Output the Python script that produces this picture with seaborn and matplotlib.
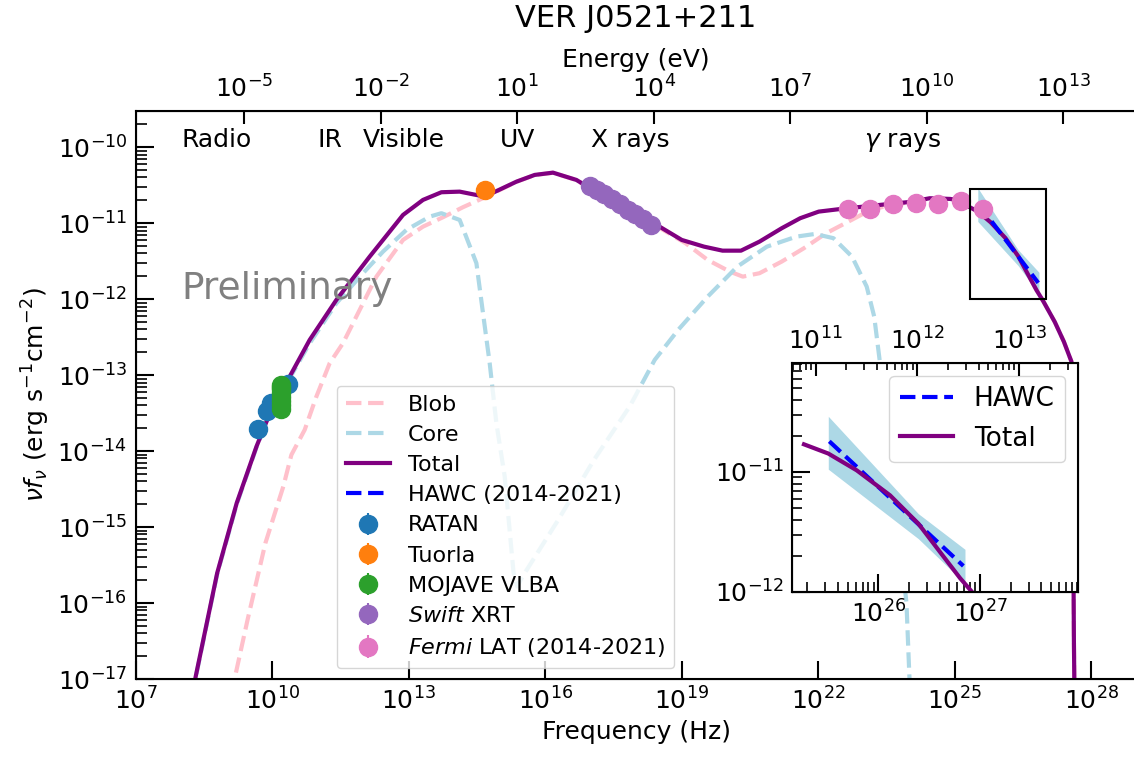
import numpy as np
import matplotlib
matplotlib.use("Agg")
import matplotlib.pyplot as plt
from matplotlib.patches import Rectangle
from matplotlib.ticker import NullLocator
import seaborn as sns

# Planck constant in eV s, for the energy axis on top
h_ev = 4.135667696e-15

# ---- model curves (log10 nu [Hz], log10 nuFnu [erg s^-1 cm^-2]) ----
total_lognu = [8.25, 8.319, 8.791, 9.22, 9.655, 10.009, 10.385, 10.824, 11.411, 12.143,
               12.875, 13.314, 13.719, 14.121, 14.67, 15.367, 15.769, 16.171, 16.686, 16.807,
               17.527, 18.514, 19.002, 19.49, 19.897, 20.303, 20.71, 21.198, 21.604, 22.011,
               22.499, 23.352, 24.011, 24.451, 24.9, 25.101, 25.269, 25.508, 25.787, 26.115,
               26.393, 26.606, 26.803, 26.95, 27.2, 27.4, 27.565, 27.59, 27.605, 27.62, 27.64]
total_logflux = [-17.2, -16.966, -15.605, -14.684, -13.939, -13.413, -13.018, -12.536, -12.009, -11.439,
                 -10.891, -10.693, -10.592, -10.584, -10.65, -10.453, -10.364, -10.334, -10.43, -10.474,
                 -10.71, -11.045, -11.22, -11.308, -11.361, -11.361, -11.242, -11.066, -10.934, -10.847,
                 -10.812, -10.759, -10.72, -10.671, -10.68, -10.70, -10.769, -10.846, -10.986, -11.195,
                 -11.431, -11.668, -11.886, -12.03, -12.3, -12.56, -12.82, -13.4, -15.0, -16.5, -17.6]

# the inset shows the total model only from ~1.9e25 Hz upward
inset_total_lognu = [25.269, 25.508, 25.787, 26.115, 26.393, 26.606, 26.803, 26.95, 27.2]
inset_total_logflux = [-10.769, -10.846, -10.986, -11.195, -11.431, -11.668, -11.886, -12.03, -12.3]

blob_lognu = [9.10, 9.185, 9.459, 9.851, 10.244, 10.422, 10.714, 10.971, 11.264, 11.556,
              11.996, 12.29, 12.875, 13.314, 13.754, 14.193, 14.67, 15.367, 15.769, 16.171,
              16.686, 16.807, 17.527, 18.2, 18.593, 19.084, 19.571, 20.059, 20.343, 20.71,
              21.198, 21.686, 22.174, 22.662, 23.149, 23.6, 24.011, 24.451, 24.9, 25.101,
              25.269, 25.508, 25.787, 26.115, 26.393, 26.606, 26.803, 26.95, 27.2, 27.4,
              27.565, 27.59, 27.605, 27.62, 27.64]
blob_logflux = [-17.2, -16.966, -16.22, -15.21, -14.466, -14.049, -13.72, -13.282, -12.842, -12.579,
                -12.053, -11.703, -11.22, -11.045, -10.921, -10.789, -10.66, -10.455, -10.366, -10.336,
                -10.432, -10.476, -10.712, -10.95, -11.088, -11.263, -11.483, -11.637, -11.703, -11.658,
                -11.505, -11.329, -11.132, -10.979, -10.825, -10.76, -10.725, -10.675, -10.683, -10.703,
                -10.77, -10.847, -10.987, -11.196, -11.432, -11.669, -11.887, -12.03, -12.3, -12.56,
                -12.82, -13.4, -15.0, -16.5, -17.6]

core_lognu = [8.25, 8.319, 8.791, 9.22, 9.655, 10.009, 10.385, 10.824, 11.411, 11.996,
              12.435, 12.949, 13.462, 13.719, 14.121, 14.488, 14.633, 14.78, 14.927, 15.11,
              15.305, 15.385, 15.503, 16.288, 17.073, 17.857, 18.407, 18.921, 19.571, 20.222,
              20.873, 21.523, 21.93, 22.336, 22.743, 23.066, 23.231, 23.35, 23.6, 23.85,
              23.94, 24.0, 24.05]
core_logflux = [-17.22, -16.98, -15.62, -14.70, -13.95, -13.43, -13.04, -12.58, -12.053, -11.658,
                -11.374, -11.088, -10.913, -10.868, -10.957, -11.526, -12.184, -12.842, -13.632, -14.334,
                -15.605, -15.782, -15.65, -14.904, -14.114, -13.413, -12.799, -12.405, -11.966, -11.571,
                -11.308, -11.176, -11.141, -11.197, -11.439, -11.834, -12.229, -12.8, -14.2, -15.5,
                -16.0, -16.9, -17.6]

# HAWC power law and its band
hawc_lognu = [25.518, 26.836]
hawc_logflux = [-10.744, -11.785]
band_lognu = [25.508, 26.393, 26.852]
band_upper = [-10.535, -11.348, -11.646]
band_lower = [-10.977, -11.557, -11.93]

# ---- data points ----
ratan_nu = [4.8e9, 7.5e9, 9.6e9, 2.22e10]
ratan_flux = [1.95e-14, 3.4e-14, 4.25e-14, 7.6e-14]
ratan_err = [1.5e-15, 2.0e-15, 2.5e-15, 4.0e-15]

tuorla_nu = [4.75e14]
tuorla_flux = [2.7e-11]
tuorla_err = [1.0e-12]

mojave_nu = [1.54e10, 1.54e10, 1.54e10, 1.54e10, 1.54e10, 1.54e10, 1.54e10, 1.54e10]
mojave_flux = [7.5e-14, 7.0e-14, 6.5e-14, 5.8e-14, 5.2e-14, 4.6e-14, 4.1e-14, 3.6e-14]
mojave_err = [2e-15, 2e-15, 2e-15, 2e-15, 2e-15, 2e-15, 2e-15, 2e-15]

swift_nu = [9.5e16, 1.4e17, 2.0e17, 3.0e17, 4.5e17, 6.5e17, 9.5e17, 1.4e18, 2.1e18]
swift_flux = [3.1e-11, 2.75e-11, 2.4e-11, 2.1e-11, 1.78e-11, 1.51e-11, 1.32e-11, 1.12e-11, 9.5e-12]
swift_err = [1.5e-12, 1.2e-12, 1.0e-12, 1.0e-12, 0.9e-12, 0.8e-12, 0.8e-12, 0.8e-12, 0.8e-12]

fermi_nu = [4.57e22, 1.41e23, 4.47e23, 1.38e24, 4.27e24, 1.35e25, 4.17e25]
fermi_flux = [1.56e-11, 1.55e-11, 1.78e-11, 1.86e-11, 1.78e-11, 1.95e-11, 1.55e-11]
fermi_err = [1.0e-12, 1.0e-12, 1.0e-12, 1.0e-12, 1.2e-12, 1.5e-12, 2.0e-12]

band_names = ["Radio", "IR", "Visible", "UV", "X rays", r"$\gamma$ rays"]
band_name_nu = [1e8, 1e11, 1e12, 1e15, 1e17, 1e23]

def lin(v):
    return 10 ** np.array(v)

fig = plt.figure(figsize=(11.34, 7.58), dpi=100)
ax = fig.add_axes([0.11966, 0.10422, 0.88272, 0.74974])
ax.set_xscale("log")
ax.set_yscale("log")

sns.lineplot(x=lin(blob_lognu), y=lin(blob_logflux), color="pink", linestyle="--", lw=3,
             estimator=None, label="Blob", ax=ax)
sns.lineplot(x=lin(core_lognu), y=lin(core_logflux), color="lightblue", linestyle="--", lw=3,
             estimator=None, label="Core", ax=ax)
sns.lineplot(x=lin(total_lognu), y=lin(total_logflux), color="purple", lw=3,
             estimator=None, label="Total", ax=ax)
ax.fill_between(lin(band_lognu), lin(band_lower), lin(band_upper), color="lightblue", lw=0)
sns.lineplot(x=lin(hawc_lognu), y=lin(hawc_logflux), color="blue", linestyle="--", lw=3,
             estimator=None, label="HAWC (2014-2021)", ax=ax)

ms = 13
ax.errorbar(ratan_nu, ratan_flux, yerr=ratan_err, fmt="o", ms=ms, color="#1f77b4", label="RATAN")
ax.errorbar(tuorla_nu, tuorla_flux, yerr=tuorla_err, fmt="o", ms=ms, color="#ff7f0e", label="Tuorla")
ax.errorbar(mojave_nu, mojave_flux, yerr=mojave_err, fmt="o", ms=ms, color="#2ca02c", label="MOJAVE VLBA")
ax.errorbar(swift_nu, swift_flux, yerr=swift_err, fmt="o", ms=ms, color="#9467bd", label=r"$\it{Swift}$ XRT")
ax.errorbar(fermi_nu, fermi_flux, yerr=fermi_err, fmt="o", ms=ms, color="#e377c2",
            label=r"$\it{Fermi}$ LAT (2014-2021)")

ax.add_patch(Rectangle((2.15e25, 1.0e-12), 1.03e27 - 2.15e25, 2.83e-11 - 1.0e-12,
                       fill=False, ec="black", lw=1.5, zorder=4))

for name, nu in zip(band_names, band_name_nu):
    ax.text(nu, 1e-10, name, fontsize=18, ha="left", va="baseline")
ax.text(1e8, 1e-12, "Preliminary", fontsize=27, color="gray", ha="left", va="baseline")

ax.set_xlim(1e7, 1e29)
ax.set_ylim(1e-17, 3.03e-10)
ax.set_xticks([1e7, 1e10, 1e13, 1e16, 1e19, 1e22, 1e25, 1e28])
ax.xaxis.set_minor_locator(NullLocator())
ax.set_xlabel("Frequency (Hz)", fontsize=18)
ax.set_ylabel(r"$\nu f_{\nu}$ (erg s$^{-1}$cm$^{-2}$)", fontsize=18)
ax.tick_params(which="major", direction="in", length=13, width=1.5, labelsize=18, pad=6)
ax.tick_params(axis="y", which="minor", direction="in", length=8, width=1.2)
for s in ax.spines.values():
    s.set_linewidth(1.5)

ax.legend(loc="lower left", bbox_to_anchor=(0.201, 0.019), borderaxespad=0, fontsize=16,
          labelspacing=0.46)

ax_top = ax.twiny()
ax_top.set_xscale("log")
ax_top.set_xlim(1e7 * h_ev, 1e29 * h_ev)
ax_top.set_xticks([1e-5, 1e-2, 1e1, 1e4, 1e7, 1e10, 1e13])
ax_top.xaxis.set_minor_locator(NullLocator())
ax_top.tick_params(direction="in", length=9, width=1.5, labelsize=18, pad=6)
ax_top.set_xlabel("Energy (eV)", fontsize=18, labelpad=6)

# ---- inset zoom on the HAWC range ----
axin = fig.add_axes([0.69868, 0.21939, 0.25220, 0.30211])
axin.set_xscale("log")
axin.set_yscale("log")
axin.fill_between(lin(band_lognu), lin(band_lower), lin(band_upper), color="lightblue", lw=0)
sns.lineplot(x=lin(hawc_lognu), y=lin(hawc_logflux), color="blue", linestyle="--", lw=3,
             estimator=None, label="HAWC", ax=axin)
sns.lineplot(x=lin(inset_total_lognu), y=lin(inset_total_logflux), color="purple", lw=3,
             estimator=None, label="Total", ax=axin)
axin.set_xlim(1.426e25, 9.25e27)
axin.set_ylim(1e-12, 8.18e-11)
axin.tick_params(which="major", direction="in", length=13, width=1.5, labelsize=18, pad=6)
axin.tick_params(which="minor", direction="in", length=7, width=1.2)
for s in axin.spines.values():
    s.set_linewidth(1.5)
axin.legend(loc="upper right", fontsize=19)

axin_top = axin.twiny()
axin_top.set_xscale("log")
axin_top.set_xlim(1.426e25 * h_ev, 9.25e27 * h_ev)
axin_top.tick_params(which="major", direction="in", length=9, width=1.5, labelsize=18, pad=6)
axin_top.tick_params(which="minor", direction="in", length=5, width=1.2)

fig.text(0.561, 0.975, "VER J0521+211", fontsize=22, ha="center", va="center")

fig.savefig("out.png", dpi=100)
